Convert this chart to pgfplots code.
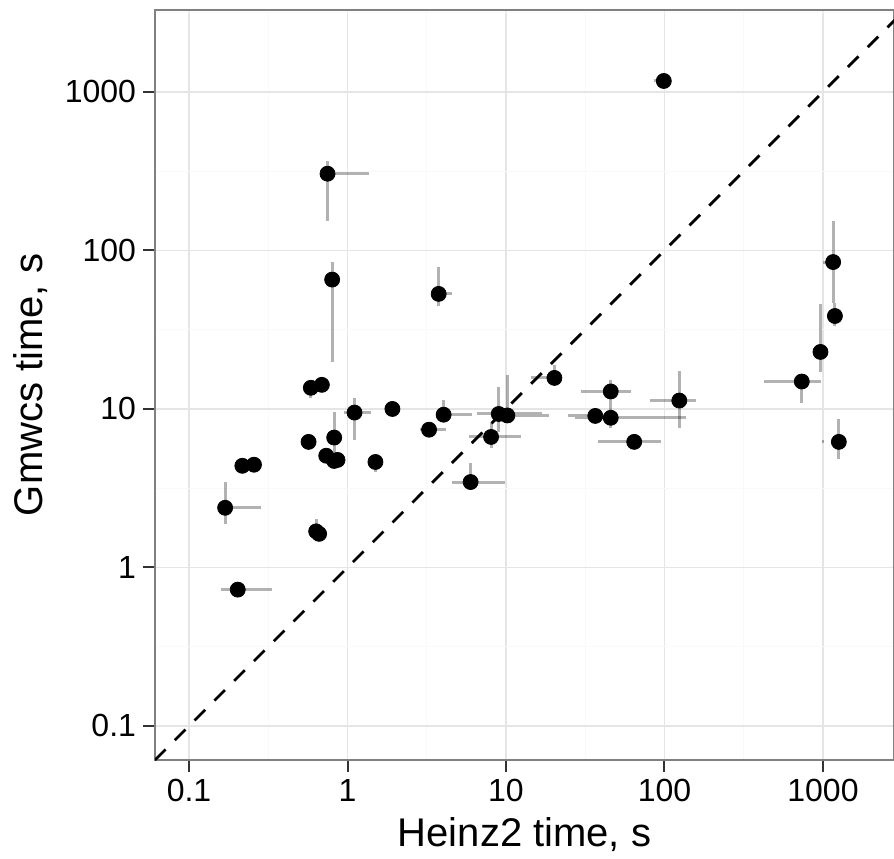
\documentclass[border=0pt]{standalone}
\usepackage{pgfplots}
\pgfplotsset{compat=1.18}
\usepackage{pgfplotstable}
\usepackage{fontspec}
\setmainfont{Liberation Sans}

\definecolor{gridmaj}{gray}{0.90}
\definecolor{gridmin}{gray}{0.975}
\definecolor{panelborder}{gray}{0.50}
\definecolor{tickcol}{gray}{0.20}

% median times
\pgfplotstableread{
x y
0.748 305
0.80 65.5
3.76 53.2
99 1173
0.587 13.6
0.689 14.2
1.107 9.49
1.92 10.0
4.04 9.2
3.27 7.4
9.0 9.3
10.2 9.1
8.05 6.66
5.98 3.46
0.824 6.6
0.568 6.2
0.734 5.07
0.824 4.7
0.865 4.77
1.50 4.63
0.217 4.38
0.257 4.45
0.169 2.38
0.634 1.69
0.662 1.63
0.203 0.725
20.2 15.7
45.8 12.9
36.6 9.04
45.8 8.8
64.4 6.2
124 11.3
735 14.9
964 22.9
1159 84.5
1189 38.6
1259 6.2
}\pts

% vertical ranges (Gmwcs)
\pgfplotstableread{
x y
0.748 154.5
0.748 369
nan nan
0.80 19.9
0.80 84.4
nan nan
3.76 44.9
3.76 78.7
nan nan
0.587 11.7
0.587 13.6
nan nan
0.689 14.2
0.689 15.6
nan nan
1.107 6.37
1.107 11.8
nan nan
4.04 9.2
4.04 11.4
nan nan
3.27 6.9
3.27 7.4
nan nan
9.0 7.2
9.0 13.7
nan nan
10.2 8.6
10.2 16.4
nan nan
8.05 5.66
8.05 8.1
nan nan
5.98 3.46
5.98 4.58
nan nan
0.824 5.0
0.824 9.6
nan nan
1.50 4.0
1.50 4.63
nan nan
0.169 1.87
0.169 3.44
nan nan
0.634 1.69
0.634 2.02
nan nan
20.2 15.7
20.2 19.0
nan nan
45.8 8.8
45.8 15.2
nan nan
45.8 7.55
45.8 8.8
nan nan
64.4 6.2
64.4 7.0
nan nan
124 7.55
124 17.3
nan nan
735 10.9
735 16.6
nan nan
964 17.2
964 45.9
nan nan
1159 46.7
1159 153.6
nan nan
1189 33.4
1189 46.7
nan nan
1259 4.82
1259 8.65
}\vbars

% horizontal ranges (Heinz2)
\pgfplotstableread{
x y
0.748 305
1.36 305
nan nan
3.76 53.2
4.58 53.2
nan nan
85.7 1173
99 1173
nan nan
0.957 9.49
1.41 9.49
nan nan
4.04 9.2
6.1 9.2
nan nan
2.88 7.4
4.2 7.4
nan nan
6.6 9.3
16.8 9.3
nan nan
9.9 9.1
18.8 9.1
nan nan
5.82 6.66
12.4 6.66
nan nan
4.56 3.46
9.8 3.46
nan nan
0.169 2.38
0.284 2.38
nan nan
0.159 0.725
0.333 0.725
nan nan
14.3 15.7
20.2 15.7
nan nan
29.9 12.9
61.7 12.9
nan nan
24.5 9.04
36.6 9.04
nan nan
27.4 8.8
137 8.8
nan nan
38 6.2
95.5 6.2
nan nan
80.5 11.3
157 11.3
nan nan
425 14.9
977 14.9
nan nan
1000 84.5
1159 84.5
nan nan
990 6.2
1010 6.2
}\hbars

\begin{document}
\begin{tikzpicture}
\begin{axis}[
    scale only axis,
    width=369.5pt, height=375pt,
    xmode=log, ymode=log,
    xmin=0.061, xmax=2806,
    ymin=0.061, ymax=3289,
    axis line style={panelborder, line width=1pt},
    xtick={0.1,1,10,100,1000},
    xticklabels={0.1,1,10,100,1000},
    ytick={0.1,1,10,100,1000},
    yticklabels={0.1,1,10,100,1000},
    minor xtick={0.316,3.16,31.6,316},
    minor ytick={0.316,3.16,31.6,316,3162},
    xtick pos=bottom, ytick pos=left,
    tick align=outside,
    major tick length=6pt,
    minor tick length=0pt,
    tick style={tickcol, line width=1pt},
    xmajorgrids, ymajorgrids, xminorgrids, yminorgrids,
    major grid style={gridmaj, line width=0.8pt},
    minor grid style={gridmin, line width=0.7pt},
    ticklabel style={font=\fontsize{16}{19}\selectfont, text=black},
    xlabel={Heinz2 time, s},
    ylabel={Gmwcs time, s},
    label style={font=\fontsize{20}{24}\selectfont},
    xlabel style={at={(axis description cs:0.5,-0.1156)}, anchor=base},
    ylabel style={at={(axis description cs:-0.1516,0.5)}, anchor=base},
    clip=true,
]
\addplot[black, line width=1.4pt, dash pattern=on 7.5pt off 6.5pt, forget plot]
    coordinates {(0.061,0.061) (10000,10000)};
\addplot[black, opacity=0.3, line width=1.5pt, unbounded coords=jump, forget plot]
    table {\vbars};
\addplot[black, opacity=0.3, line width=1.5pt, unbounded coords=jump, forget plot]
    table {\hbars};
\addplot[only marks, mark=*, mark size=3.75pt, black] table {\pts};
\end{axis}
\pgfresetboundingbox
\path[use as bounding box] ([xshift=-77.5pt,yshift=-49pt]current axis.south west)
    rectangle ([yshift=5pt]current axis.north east);
\end{tikzpicture}
\end{document}
